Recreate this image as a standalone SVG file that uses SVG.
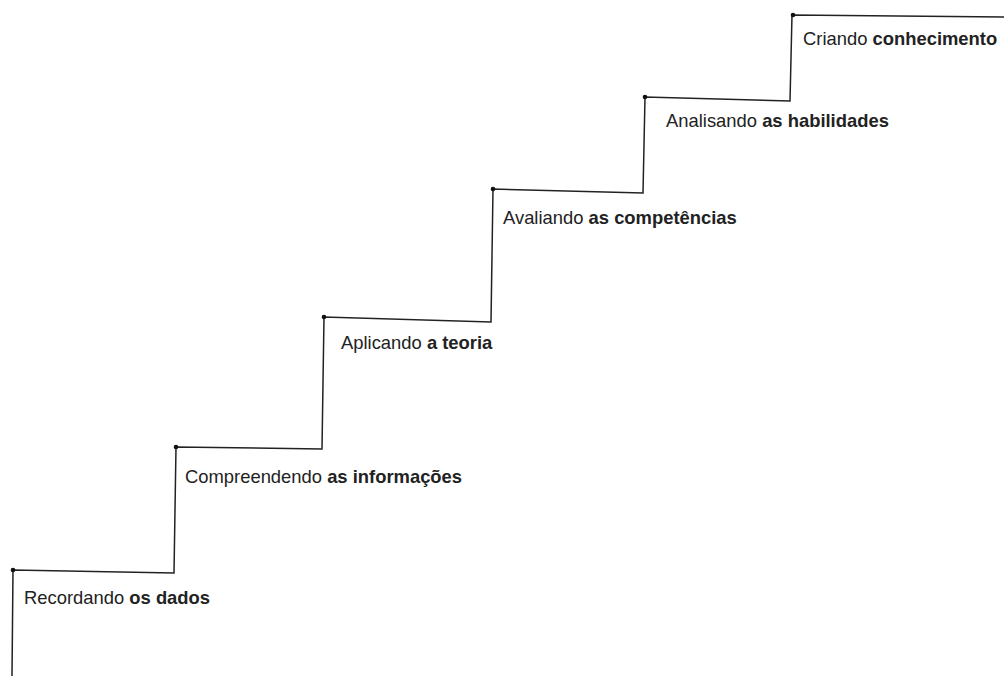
<svg xmlns="http://www.w3.org/2000/svg" width="1004" height="676" viewBox="0 0 1004 676">
<style>
.ln{fill:none;stroke:#222;stroke-width:1.5;stroke-linejoin:miter}
.dot{fill:#111}
.t{font-family:"Liberation Sans",Arial,sans-serif;font-size:18.4px;fill:#222}
.b{font-weight:bold}
</style>
<rect width="1004" height="676" fill="#fff"/>
<g id="connectors">
<polyline class="ln" points="12,676 13,570 174,573 176,447 322,449 324,317 491,322 493,189 643,193 645,97 790,101 792,15 1004,17"/>
</g>
<g id="step1"><circle class="dot" cx="13" cy="570" r="2.3"/><text class="t" x="24" y="604">Recordando <tspan class="b">os dados</tspan></text></g>
<g id="step2"><circle class="dot" cx="176" cy="447" r="2.3"/><text class="t" x="185" y="483">Compreendendo <tspan class="b">as informações</tspan></text></g>
<g id="step3"><circle class="dot" cx="324" cy="317" r="2.3"/><text class="t" x="341" y="349">Aplicando <tspan class="b">a teoria</tspan></text></g>
<g id="step4"><circle class="dot" cx="493" cy="189" r="2.3"/><text class="t" x="503" y="224">Avaliando <tspan class="b">as competências</tspan></text></g>
<g id="step5"><circle class="dot" cx="645" cy="97" r="2.3"/><text class="t" x="666" y="127">Analisando <tspan class="b">as habilidades</tspan></text></g>
<g id="step6"><circle class="dot" cx="793" cy="15" r="2.3"/><text class="t" x="803" y="45">Criando <tspan class="b">conhecimento</tspan></text></g>
</svg>
